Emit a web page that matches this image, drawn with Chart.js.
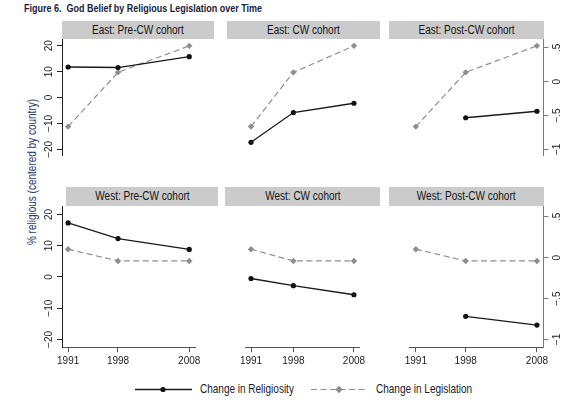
<!DOCTYPE html>
<html>
<head>
<meta charset="utf-8">
<script src="https://cdn.jsdelivr.net/npm/chart.js@4.4.1/dist/chart.umd.min.js"></script>
<style>
    body { margin: 0; width: 565px; height: 411px; background: #fff; position: relative; overflow: hidden; font-family: "Liberation Sans", sans-serif; }
    canvas { position: absolute; left: 0; top: 0; }
    #title { position: absolute; left: 24px; top: 3px; font-weight: bold; color: #17213d; white-space: pre; transform-origin: 0 0; line-height: 12px; }
    .hdr { position: absolute; background: #cbcbcb; color: #151515; text-align: center; white-space: nowrap; overflow: visible; }
    .hdr span { display: inline-block; transform-origin: 50% 50%; }
    #ytitle { position: absolute; color: #1e3a78; white-space: nowrap; transform-origin: 50% 50%; }
    .leg { position: absolute; color: #1a1a2a; white-space: nowrap; line-height: 14px; transform-origin: 0 50%; }
    svg { position: absolute; }
</style>
</head>
<body>
<div id="title">Figure 6.  God Belief by Religious Legislation over Time</div>
<div id="ytitle">% religious (centered by country)</div>
<svg id="legSolid" style="left:133px;top:384px" width="62" height="11">
    <line x1="2" y1="5.5" x2="59" y2="5.5" stroke="#1a1a1a" stroke-width="1.3"/>
    <circle cx="30" cy="5.5" r="2.6" fill="#111"/>
</svg>
<div class="leg" id="legText1" style="left:200px;top:382px">Change in Religiosity</div>
<svg id="legDash" style="left:309px;top:384px" width="62" height="11">
    <line x1="2" y1="5.5" x2="59" y2="5.5" stroke="#8e8e8e" stroke-width="1.2" stroke-dasharray="6 3.5"/>
    <rect x="27.4" y="2.9" width="5.2" height="5.2" fill="#8e8e8e" transform="rotate(45 30 5.5)"/>
</svg>
<div class="leg" id="legText2" style="left:376px;top:382px">Change in Legislation</div>

<script>
// data
const years = [1991, 1998, 2008];
const panelTitles = [
    'East: Pre-CW cohort', 'East: CW cohort', 'East: Post-CW cohort',
    'West: Pre-CW cohort', 'West: CW cohort', 'West: Post-CW cohort'
];
const religEastPre = [11.8, 11.6, 15.8];
const religEastCW = [-17.3, -5.8, -2.2];
const religEastPost = [null, -7.8, -5.3];
const religWestPre = [17.3, 12.3, 8.8];
const religWestCW = [-0.5, -2.8, -5.7];
const religWestPost = [null, -12.6, -15.4];
const legisEast = [-0.664, 0.137, 0.528];
const legisWest = [0.105, -0.039, -0.039];
const leftTicks = [-20, -10, 0, 10, 20];
const leftTickLabels = ['\u221220', '\u221210', '0', '10', '20'];
const rightTicks = [-1, -0.5, 0, 0.5];
const rightTickLabels = ['\u22121', '\u2212.5', '0', '.5'];

const religiosity = [religEastPre, religEastCW, religEastPost, religWestPre, religWestCW, religWestPost];
const legislation = [legisEast, legisEast, legisEast, legisWest, legisWest, legisWest];

// no narrow face installed, so html text gets squeezed with scaleX
const FAMILY = '"Liberation Sans", sans-serif';
const SQ = 0.82;

// layout (page pixels)
const W = 565, H = 411;
const colLeft = [62, 225.8, 389.7];
const plotW = 153.3;
const rowTop = [39.3, 206.7];
const plotH = 140.5;
const hdrBoxes = [
    [62, 21, 152, 18], [227, 21, 153, 18], [389, 21, 155, 18],
    [65.7, 187.3, 152.6, 18.4], [225, 187.3, 155, 18.4], [389, 187.3, 155, 18.4]
];
const AXW = 20, AXH = 24;

// title, headers, y title, legend text
const title = document.getElementById('title');
title.style.fontSize = '10px';
title.style.transform = 'scaleX(' + (238 / title.getBoundingClientRect().width) + ')';

panelTitles.forEach((t, i) => {
    const d = document.createElement('div');
    const b = hdrBoxes[i];
    d.className = 'hdr';
    d.innerHTML = '<span></span>';
    d.firstChild.textContent = t;
    d.firstChild.style.transform = 'scaleX(' + SQ + ')';
    d.style.cssText = `left:${b[0]}px;top:${b[1]}px;width:${b[2]}px;height:${b[3]}px;line-height:${b[3] + 1}px;font-size:12.2px`;
    document.body.appendChild(d);
});

const yt = document.getElementById('ytitle');
yt.style.fontSize = '12.2px';
const yr = yt.getBoundingClientRect();
yt.style.left = (32.5 - yr.width / 2) + 'px';
yt.style.top = (171.5 - yr.height / 2) + 'px';
yt.style.transform = 'rotate(-90deg) scaleX(' + SQ + ')';

document.querySelectorAll('.leg').forEach(e => {
    e.style.fontSize = '12.2px';
    e.style.transform = 'scaleX(' + SQ + ')';
});

const tickFont = { family: FAMILY, size: 10 };

for (let i = 0; i < 6; i++) {
    const col = i % 3, row = Math.floor(i / 3);
    const left = colLeft[col], top = rowTop[row];
    const showLeft = col === 0, showRight = col === 2, showX = row === 1;

    const cv = document.createElement('canvas');
    cv.width = W;
    cv.height = H;
    document.body.appendChild(cv);

    new Chart(cv.getContext('2d'), {
        type: 'line',
        data: {
            datasets: [{
                label: 'Change in Religiosity',
                data: years.map((y, k) => ({ x: y, y: religiosity[i][k] })),
                yAxisID: 'y',
                borderColor: '#1a1a1a',
                borderWidth: 1.3,
                pointStyle: 'circle',
                pointRadius: 2.6,
                pointBackgroundColor: '#111',
                pointBorderWidth: 0,
                tension: 0
            }, {
                label: 'Change in Legislation',
                data: years.map((y, k) => ({ x: y, y: legislation[i][k] })),
                yAxisID: 'y2',
                borderColor: '#8e8e8e',
                borderWidth: 1.2,
                borderDash: [6, 3.5],
                pointStyle: 'rectRot',
                pointRadius: 3.2,
                pointBackgroundColor: '#8e8e8e',
                pointBorderWidth: 0,
                tension: 0
            }]
        },
        options: {
            responsive: false,
            animation: false,
            events: [],
            layout: {
                padding: {
                    left: left - (showLeft ? AXW : 0),
                    top: top,
                    right: W - left - plotW - (showRight ? AXW : 0),
                    bottom: H - top - plotH - (showX ? AXH : 0)
                }
            },
            scales: {
                x: {
                    type: 'linear',
                    display: showX,
                    min: 1990.14,
                    max: 2008.85,
                    afterBuildTicks: s => { s.ticks = years.map(v => ({ value: v })); },
                    afterFit: s => { s.height = AXH; },
                    grid: { drawOnChartArea: false, tickLength: 5, color: '#555' },
                    border: { color: '#555', width: 1 },
                    ticks: { font: tickFont, color: '#1a1a2a', padding: 3, maxRotation: 0, autoSkip: false, callback: v => String(v) }
                },
                y: {
                    type: 'linear',
                    position: 'left',
                    display: showLeft,
                    min: -22.5,
                    max: 22.5,
                    afterBuildTicks: s => { s.ticks = leftTicks.map(v => ({ value: v })); },
                    afterFit: s => { s.width = AXW; },
                    grid: { drawOnChartArea: false, tickLength: 5, color: '#222' },
                    border: { color: '#222', width: 1 },
                    ticks: {
                        font: tickFont, color: '#1a1a2a', padding: -1, autoSkip: false,
                        minRotation: 90, maxRotation: 90, crossAlign: 'center',
                        callback: v => leftTickLabels[leftTicks.indexOf(v)]
                    }
                },
                y2: {
                    type: 'linear',
                    position: 'right',
                    display: showRight,
                    min: -1.095,
                    max: 0.625,
                    afterBuildTicks: s => { s.ticks = rightTicks.map(v => ({ value: v })); },
                    afterFit: s => { s.width = AXW; },
                    grid: { drawOnChartArea: false, tickLength: 5.5, color: '#7a7a7a' },
                    border: { color: '#7a7a7a', width: 1 },
                    ticks: {
                        font: tickFont, color: '#1a1a2a', padding: 2, autoSkip: false,
                        minRotation: 90, maxRotation: 90, crossAlign: 'center',
                        callback: v => rightTickLabels[rightTicks.indexOf(v)]
                    }
                }
            },
            plugins: {
                legend: { display: false },
                tooltip: { enabled: false }
            }
        }
    });
}
</script>
</body>
</html>
